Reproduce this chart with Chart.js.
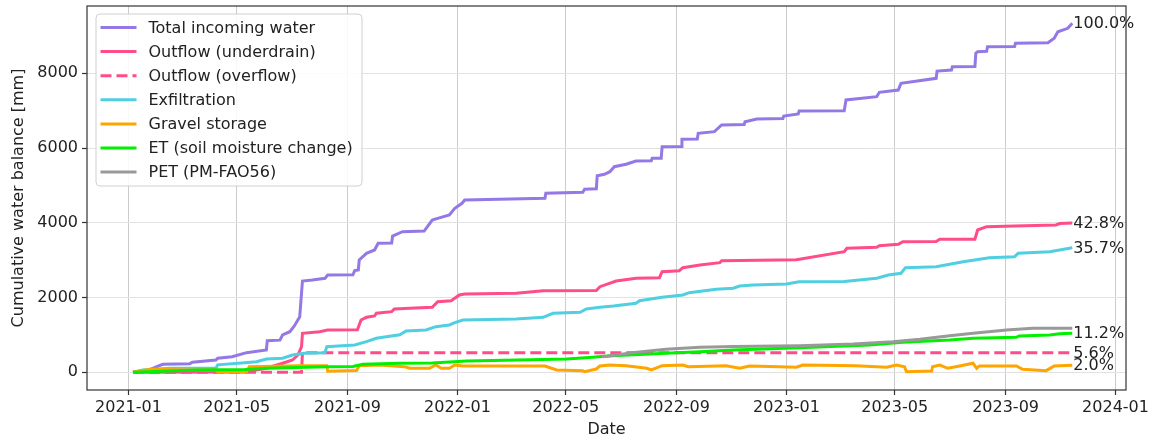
<!DOCTYPE html>
<html>
<head>
<meta charset="utf-8">
<script src="https://cdn.jsdelivr.net/npm/chart.js@4/dist/chart.umd.min.js"></script>
<style>
  body { margin: 0; background: #fff; }
</style>
</head>
<body>
<canvas id="grafico" width="1151" height="439"></canvas>
<script>
// cumulative series, [date, mm]
const totalIncoming = [
  ['2021-01-06', 0], ['2021-01-19', 20], ['2021-02-08', 214], ['2021-03-10', 230], ['2021-03-13', 268],
  ['2021-04-08', 329], ['2021-04-10', 375], ['2021-04-26', 418], ['2021-05-12', 525], ['2021-06-03', 597],
  ['2021-06-04', 846], ['2021-06-18', 860], ['2021-06-21', 998], ['2021-06-29', 1087], ['2021-07-04', 1239],
  ['2021-07-10', 1488], ['2021-07-13', 2443], ['2021-07-24', 2470], ['2021-08-07', 2514], ['2021-08-10', 2604],
  ['2021-09-07', 2610], ['2021-09-09', 2720], ['2021-09-13', 2740], ['2021-09-14', 3005], ['2021-09-22', 3184],
  ['2021-10-01', 3273], ['2021-10-05', 3452], ['2021-10-20', 3460], ['2021-10-21', 3647], ['2021-11-01', 3763],
  ['2021-11-25', 3780], ['2021-12-04', 4075], ['2021-12-10', 4120], ['2021-12-23', 4209], ['2021-12-29', 4388],
  ['2022-01-06', 4522], ['2022-01-09', 4610], ['2022-04-08', 4655], ['2022-04-09', 4790], ['2022-05-20', 4816],
  ['2022-05-22', 4896], ['2022-06-04', 4910], ['2022-06-05', 5260], ['2022-06-13', 5300], ['2022-06-19', 5368],
  ['2022-06-24', 5502], ['2022-07-07', 5566], ['2022-07-18', 5654], ['2022-08-04', 5660], ['2022-08-05', 5727],
  ['2022-08-15', 5730], ['2022-08-16', 6037], ['2022-09-06', 6040], ['2022-09-07', 6235], ['2022-09-24', 6240],
  ['2022-09-25', 6396], ['2022-10-13', 6439], ['2022-10-21', 6618], ['2022-11-15', 6630], ['2022-11-16', 6706],
  ['2022-11-29', 6778], ['2022-12-28', 6790], ['2022-12-29', 6858], ['2023-01-14', 6912], ['2023-01-15', 6992],
  ['2023-03-06', 7000], ['2023-03-08', 7287], ['2023-04-11', 7375], ['2023-04-14', 7493], ['2023-05-05', 7554],
  ['2023-05-08', 7734], ['2023-06-16', 7867], ['2023-06-17', 8060], ['2023-07-03', 8090], ['2023-07-04', 8178],
  ['2023-07-29', 8180], ['2023-07-30', 8536], ['2023-08-01', 8580], ['2023-08-11', 8590], ['2023-08-12', 8713],
  ['2023-09-11', 8720], ['2023-09-12', 8804], ['2023-10-18', 8820], ['2023-10-25', 8938], ['2023-10-29', 9114],
  ['2023-11-09', 9205], ['2023-11-14', 9339]
];
const outflowUnderdrain = [
  ['2021-01-06', 0], ['2021-05-10', 10], ['2021-06-03', 107], ['2021-06-21', 241], ['2021-07-02', 329],
  ['2021-07-08', 463], ['2021-07-12', 685], ['2021-07-13', 1044], ['2021-08-01', 1087], ['2021-08-10', 1132],
  ['2021-09-12', 1140], ['2021-09-16', 1400], ['2021-09-22', 1471], ['2021-10-01', 1507], ['2021-10-03', 1579],
  ['2021-10-20', 1622], ['2021-10-23', 1694], ['2021-11-09', 1712], ['2021-12-04', 1739], ['2021-12-10', 1890],
  ['2021-12-25', 1916], ['2022-01-03', 2069], ['2022-01-09', 2095], ['2022-03-07', 2114], ['2022-04-06', 2184],
  ['2022-06-04', 2190], ['2022-06-08', 2291], ['2022-06-26', 2443], ['2022-07-18', 2515], ['2022-08-13', 2532],
  ['2022-08-16', 2692], ['2022-09-04', 2719], ['2022-09-08', 2799], ['2022-09-27', 2871], ['2022-10-19', 2933],
  ['2022-10-21', 2987], ['2023-01-12', 3010], ['2023-03-06', 3227], ['2023-03-09', 3318], ['2023-04-11', 3345],
  ['2023-04-14', 3388], ['2023-05-05', 3425], ['2023-05-10', 3495], ['2023-06-16', 3500], ['2023-06-20', 3559],
  ['2023-07-29', 3560], ['2023-08-01', 3808], ['2023-08-11', 3896], ['2023-09-11', 3915], ['2023-10-27', 3942],
  ['2023-10-31', 3980], ['2023-11-14', 3997]
];
const outflowOverflow = [
  ['2021-01-06', 0], ['2021-07-12', 0], ['2021-07-13', 523], ['2023-11-14', 523]
];
const exfiltration = [
  ['2021-01-06', 0], ['2021-01-17', 62], ['2021-02-16', 107], ['2021-04-08', 110], ['2021-04-10', 200],
  ['2021-05-10', 257], ['2021-05-23', 284], ['2021-06-03', 356], ['2021-06-21', 375], ['2021-07-02', 463],
  ['2021-07-15', 508], ['2021-08-07', 525], ['2021-08-09', 685], ['2021-09-09', 731], ['2021-09-22', 819],
  ['2021-10-03', 910], ['2021-10-14', 953], ['2021-10-29', 1005], ['2021-11-05', 1105], ['2021-11-27', 1132],
  ['2021-12-08', 1220], ['2021-12-23', 1266], ['2021-12-29', 1327], ['2022-01-07', 1400], ['2022-03-07', 1426],
  ['2022-04-06', 1471], ['2022-04-17', 1579], ['2022-05-17', 1606], ['2022-05-24', 1694], ['2022-06-08', 1739],
  ['2022-06-23', 1774], ['2022-07-18', 1846], ['2022-07-22', 1916], ['2022-08-16', 2007], ['2022-09-08', 2069],
  ['2022-09-15', 2130], ['2022-10-15', 2221], ['2022-11-03', 2248], ['2022-11-10', 2309], ['2022-11-25', 2336],
  ['2023-01-01', 2360], ['2023-01-15', 2425], ['2023-03-06', 2430], ['2023-04-11', 2515], ['2023-04-24', 2604],
  ['2023-05-08', 2649], ['2023-05-13', 2800], ['2023-06-16', 2826], ['2023-07-16', 2960], ['2023-08-14', 3067],
  ['2023-09-11', 3094], ['2023-09-15', 3184], ['2023-10-20', 3227], ['2023-11-14', 3334]
];
const gravelStorage = [
  ['2021-01-06', 0], ['2021-01-25', 80], ['2021-03-10', 60], ['2021-04-08', 60], ['2021-04-10', 5],
  ['2021-05-12', 5], ['2021-05-15', 150], ['2021-07-10', 177], ['2021-08-09', 177], ['2021-08-10', 30],
  ['2021-09-11', 50], ['2021-09-14', 177], ['2021-10-07', 195], ['2021-11-03', 150], ['2021-11-09', 107],
  ['2021-12-01', 107], ['2021-12-08', 195], ['2021-12-14', 107], ['2021-12-23', 107], ['2021-12-29', 195],
  ['2022-01-07', 169], ['2022-04-08', 169], ['2022-04-21', 62], ['2022-05-20', 44], ['2022-05-22', 16],
  ['2022-06-04', 88], ['2022-06-08', 169], ['2022-06-19', 195], ['2022-07-07', 177], ['2022-07-30', 107],
  ['2022-08-04', 62], ['2022-08-16', 177], ['2022-09-08', 195], ['2022-09-14', 150], ['2022-10-26', 177],
  ['2022-11-10', 107], ['2022-11-21', 169], ['2022-12-24', 150], ['2023-01-12', 134], ['2023-01-19', 195],
  ['2023-03-19', 177], ['2023-04-22', 134], ['2023-05-03', 195], ['2023-05-12', 150], ['2023-05-14', 16],
  ['2023-06-11', 35], ['2023-06-12', 150], ['2023-06-20', 195], ['2023-06-29', 107], ['2023-07-12', 169],
  ['2023-07-27', 241], ['2023-07-31', 107], ['2023-08-03', 169], ['2023-09-13', 169], ['2023-09-20', 80],
  ['2023-10-16', 44], ['2023-10-25', 169], ['2023-11-14', 187]
];
const etSoilMoisture = [
  ['2021-01-06', 0], ['2021-03-21', 62], ['2021-05-10', 75], ['2021-06-03', 107], ['2021-08-10', 150],
  ['2021-09-07', 155], ['2021-09-18', 214], ['2021-10-29', 241], ['2021-12-04', 250], ['2022-01-11', 300],
  ['2022-05-02', 356], ['2022-05-31', 401], ['2022-06-16', 436], ['2022-08-20', 508], ['2022-09-27', 552],
  ['2022-11-03', 597], ['2023-01-15', 659], ['2023-04-03', 731], ['2023-05-10', 803], ['2023-07-01', 865],
  ['2023-07-27', 910], ['2023-09-13', 937], ['2023-09-16', 972], ['2023-10-20', 998], ['2023-10-31', 1030],
  ['2023-11-14', 1046]
];
const petFao56 = [
  ['2022-06-10', 415], ['2022-06-16', 430], ['2022-07-14', 525], ['2022-08-20', 615], ['2022-09-27', 669],
  ['2022-11-03', 690], ['2023-01-15', 712], ['2023-03-16', 757], ['2023-04-29', 819], ['2023-05-29', 883],
  ['2023-07-01', 980], ['2023-07-27', 1044], ['2023-09-02', 1132], ['2023-10-01', 1177], ['2023-11-14', 1180]
];

const xTickLabels = ['2021-01', '2021-05', '2021-09', '2022-01', '2022-05', '2022-09', '2023-01', '2023-05', '2023-09', '2024-01'];
const yTickValues = [0, 2000, 4000, 6000, 8000];

const origem = Date.parse('2021-01-01');
const toDay = s => (Date.parse(s) - origem) / 86400000;
const xTickDays = xTickLabels.map(l => toDay(l + '-01'));

const series = [
  { label: 'Total incoming water', pts: totalIncoming, color: '#9478e6', pct: true },
  { label: 'Outflow (underdrain)', pts: outflowUnderdrain, color: '#ff4d8b', pct: true },
  { label: 'Outflow (overflow)', pts: outflowOverflow, color: '#ff4d8b', dash: [11, 5], pct: true },
  { label: 'Exfiltration', pts: exfiltration, color: '#4fcfe0', pct: true },
  { label: 'Gravel storage', pts: gravelStorage, color: '#ffa500', pct: true },
  { label: 'ET (soil moisture change)', pts: etSoilMoisture, color: '#00f000', pct: true },
  { label: 'PET (PM-FAO56)', pts: petFao56, color: '#999999', pct: false }
];
const total = totalIncoming[totalIncoming.length - 1][1];

const FONT = { family: 'DejaVu Sans', size: 16 };
const TXT = '#222222';

const extras = {
  id: 'extras',
  afterDraw(chart) {
    const { ctx, chartArea: a, scales } = chart;
    ctx.save();
    // frame
    ctx.strokeStyle = '#333333';
    ctx.lineWidth = 1.2;
    ctx.strokeRect(a.left, a.top, a.right - a.left, a.bottom - a.top);

    // percentages at end of lines
    ctx.font = '16px "DejaVu Sans"';
    ctx.fillStyle = TXT;
    ctx.textAlign = 'left';
    ctx.textBaseline = 'middle';
    chart.data.datasets.forEach((ds, i) => {
      if (!series[i].pct) return;
      const last = ds.data[ds.data.length - 1];
      const px = scales.x.getPixelForValue(last.x);
      const py = scales.y.getPixelForValue(last.y);
      ctx.fillText((last.y / total * 100).toFixed(1) + '%', px + 1, py + 1);
    });

    // legend box
    const bx = a.left + 9, by = a.top + 8, bw = 266, bh = 172, r = 4;
    ctx.beginPath();
    ctx.roundRect(bx, by, bw, bh, r);
    ctx.fillStyle = 'rgba(255,255,255,0.85)';
    ctx.fill();
    ctx.strokeStyle = '#d0d0d0';
    ctx.lineWidth = 1;
    ctx.stroke();
    chart.data.datasets.forEach((ds, i) => {
      const y = by + 13.5 + i * 24.1;
      ctx.beginPath();
      ctx.setLineDash(ds.borderDash || []);
      ctx.strokeStyle = ds.borderColor;
      ctx.lineWidth = 3;
      ctx.moveTo(bx + 4.5, y);
      ctx.lineTo(bx + 40.5, y);
      ctx.stroke();
      ctx.setLineDash([]);
      ctx.fillStyle = TXT;
      ctx.fillText(ds.label, bx + 52.5, y + 1);
    });
    ctx.restore();
  }
};

const ctx = document.getElementById('grafico').getContext('2d');
new Chart(ctx, {
  type: 'line',
  data: {
    datasets: series.map((s, i) => ({
      label: s.label,
      data: s.pts.map(p => ({ x: toDay(p[0]), y: p[1] })),
      borderColor: s.color,
      backgroundColor: s.color,
      borderDash: s.dash || [],
      borderWidth: 3,
      pointRadius: 0,
      tension: 0,
      fill: false,
      order: series.length - i
    }))
  },
  options: {
    responsive: false,
    animation: false,
    layout: { padding: { top: 6, right: 25, left: 0, bottom: 0 } },
    plugins: { legend: { display: false }, tooltip: { enabled: false } },
    scales: {
      x: {
        type: 'linear',
        min: -46,
        max: 1106.6,
        afterBuildTicks: s => { s.ticks = xTickDays.map(v => ({ value: v })); },
        afterFit: s => { s.height = 49; s.paddingLeft = 0; s.paddingRight = 0; },
        ticks: {
          autoSkip: false, maxRotation: 0, padding: 3,
          font: FONT, color: TXT,
          callback: v => xTickLabels[xTickDays.indexOf(v)]
        },
        grid: { color: '#cccccc', lineWidth: 1, tickLength: 5, tickColor: '#333333', tickWidth: 1.2 },
        border: { display: false },
        title: { display: true, text: 'Date', font: FONT, color: TXT, padding: { top: 0, bottom: 0 } }
      },
      y: {
        min: -474,
        max: 9802,
        afterBuildTicks: s => { s.ticks = yTickValues.map(v => ({ value: v })); },
        afterFit: s => { s.width = 87; s.paddingTop = 0; s.paddingBottom = 0; },
        ticks: { padding: 4, font: FONT, color: TXT, callback: v => String(v) },
        grid: { color: '#e2e2e2', lineWidth: 1, tickLength: 5, tickColor: '#333333', tickWidth: 1.2 },
        border: { display: false },
        title: { display: true, text: 'Cumulative water balance [mm]', font: FONT, color: TXT, padding: { top: 9, bottom: 0 } }
      }
    }
  },
  plugins: [extras]
});
</script>
</body>
</html>
